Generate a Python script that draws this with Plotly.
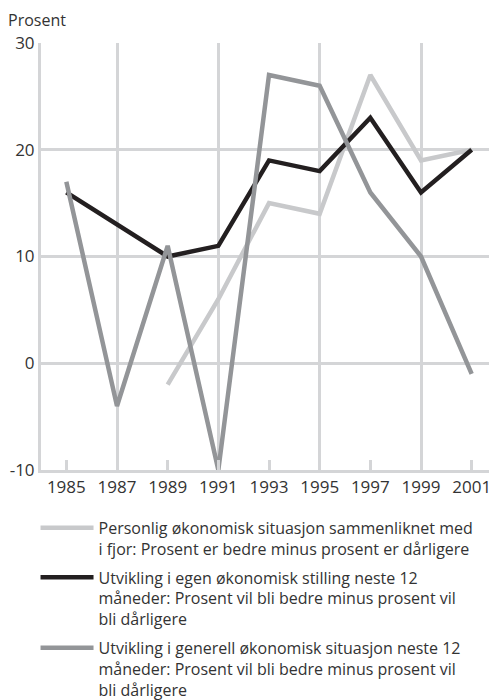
import plotly.graph_objects as go

years = [1985, 1987, 1989, 1991, 1993, 1995, 1997, 1999, 2001]
personlig = [None, None, -2, 6, 15, 14, 27, 19, 20]
egen = [16, 13, 10, 11, 19, 18, 23, 16, 20]
generell = [17, -4, 11, -10, 27, 26, 16, 10, -1]
y_ticks = [-10, 0, 10, 20, 30]
y_labels = ["-10", "0", "10", "20", "30"]

names = [
    "Personlig økonomisk situasjon sammenliknet med<br>i fjor: Prosent er bedre minus prosent er dårligere",
    "Utvikling i egen økonomisk stilling neste 12<br>måneder: Prosent vil bli bedre minus prosent vil<br>bli dårligere",
    "Utvikling i generell økonomisk situasjon neste 12<br>måneder: Prosent vil bli bedre minus prosent vil<br>bli dårligere",
]
colors = ["#c8c9cb", "#231f20", "#939598"]
series = [personlig, egen, generell]

FONT = "Open Sans"
GRID = "#d4d5d7"
TXT = "#333333"

fig = go.Figure()
for i, (s, n, c) in enumerate(zip(series, names, colors)):
    fig.add_trace(go.Scatter(x=years, y=s, name=n, mode="lines", legendgroup=f"g{i}",
                             line=dict(color=c, width=4.5), connectgaps=False))

# page body has an 8px default margin, so the figure is 8px smaller
fig.update_layout(
    width=489, height=692,
    margin=dict(l=33, r=0, t=35, b=230, autoexpand=False),
    paper_bgcolor="white", plot_bgcolor="white",
    font=dict(family=FONT, size=16, color=TXT),
    showlegend=True,
    legend=dict(x=-0.012, xanchor="left", y=-0.0956, yanchor="top",
                font=dict(family=FONT, size=16, color=TXT),
                valign="top", tracegroupgap=5, itemwidth=53, maxheight=400),
    xaxis=dict(range=[1984, 2002], tickvals=years, ticktext=[str(y) for y in years],
               showgrid=False, zeroline=False, automargin=False,
               ticks="inside", ticklen=10, tickwidth=2.5, tickcolor=GRID,
               showline=True, linecolor=GRID, linewidth=3,
               minor=dict(tickvals=[1987, 1991, 1995, 1999], showgrid=True,
                          gridcolor=GRID, gridwidth=2.5, ticks=""),
               tickfont=dict(size=17, color=TXT)),
    yaxis=dict(range=[-10, 30], tickvals=y_ticks, ticktext=y_labels,
               showgrid=True, gridcolor=GRID, gridwidth=2.5, zeroline=False,
               automargin=False,
               showline=True, linecolor=GRID, linewidth=3,
               ticks="", tickfont=dict(size=17, color=TXT)),
    annotations=[dict(text="Prosent", xref="paper", yref="paper",
                      x=-35/456, y=1, yshift=23, xanchor="left", yanchor="middle",
                      showarrow=False, font=dict(size=16, color=TXT))],
)

fig.write_html("out.html")
